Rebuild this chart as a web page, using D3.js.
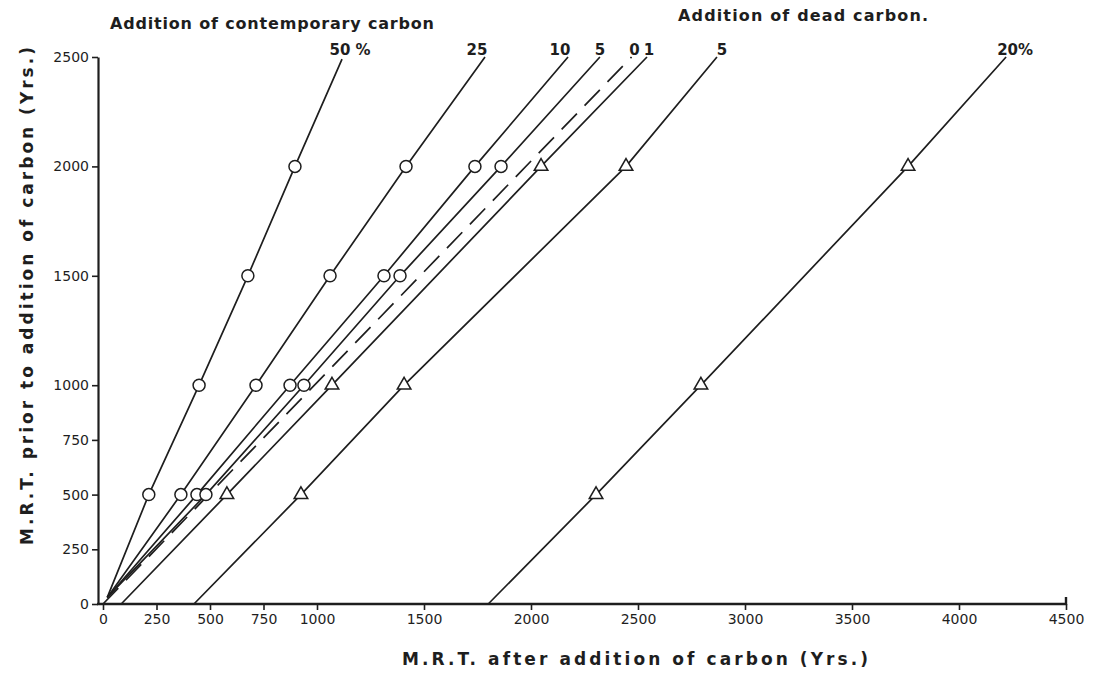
<!DOCTYPE html>
<html lang="en">
	<head>
		<meta charset="utf-8">
		<title>MRT after addition of carbon</title>
		<script type="text/javascript" src="https://cdn.jsdelivr.net/npm/d3@7"></script>
		<style type="text/css">
			body { margin: 0; background: #fff; }
			svg text { font-family: "DejaVu Sans", sans-serif; fill: #1e1e1e; }
			.axis path, .axis line { stroke: #1e1e1e; }
		</style>
	</head>

	<body>
		<script type="text/javascript">

			// chart size
			var w = 1110;
			var h = 687;

			// tick values on both axes
			var xTicks = [0, 250, 500, 750, 1000, 1500, 2000, 2500, 3000, 3500, 4000, 4500];
			var yTicks = [0, 250, 500, 750, 1000, 1500, 2000, 2500];

			// M.R.T. before the carbon was added (rows of markers)
			var priorMRT = [500, 1000, 1500, 2000];

			// one entry per line, left to right
			var seriesLabels = ["50 %", "25", "10", "5", "0", "1", "5", "20%"];
			var seriesKind = ["contemporary", "contemporary", "contemporary", "contemporary", "none", "dead", "dead", "dead"];

			// M.R.T. after addition, read at each priorMRT row (null = no marker)
			var afterMRT = [
				[214, 449, 677, 897],
				[364, 715, 1061, 1416],
				[439, 874, 1313, 1738],
				[481, 939, 1388, 1860],
				[null, null, null, null],
				[579, 1070, null, 2047],
				[925, 1407, null, 2444],
				[2304, 2794, null, 3762]
			];

			// where each line starts and stops (after, prior)
			var lineStartAfter = [20, 20, 20, 20, 0, 85, 425, 1800];
			var lineStartPrior = [30, 30, 30, 30, 0, 0, 0, 0];
			var lineEndAfter = [1117, 1785, 2173, 2322, 2470, 2542, 2869, 4220];
			var lineEndPrior = [2490, 2500, 2500, 2500, 2500, 2500, 2500, 2500];

			// small sideways shift of each end label, px
			var labelNudge = [8, -8, -8, 0, 3, 2, 5, 9];

			var xScale = d3.scaleLinear().domain([0, 4500]).range([103, 1066]);
			var yScale = d3.scaleLinear().domain([0, 2500]).range([604, 57]);

			var svg = d3.select("body")
						.append("svg")
						.attr("width", w)
						.attr("height", h);

			// build the line data
			var series = seriesLabels.map(function(label, i) {
				var pts = [[lineStartAfter[i], lineStartPrior[i]]];
				var marks = [];
				afterMRT[i].forEach(function(v, j) {
					if (v !== null) {
						pts.push([v, priorMRT[j]]);
						marks.push([v, priorMRT[j]]);
					}
				});
				pts.push([lineEndAfter[i], lineEndPrior[i]]);
				return { label: label, kind: seriesKind[i], pts: pts, marks: marks, nudge: labelNudge[i] };
			});

			var line = d3.line()
						 .x(function(d) { return xScale(d[0]); })
						 .y(function(d) { return yScale(d[1]); });

			// x axis
			var xAxis = d3.axisBottom(xScale)
						  .tickValues(xTicks)
						  .tickSize(6)
						  .tickSizeOuter(0)
						  .tickPadding(4)
						  .tickFormat(d3.format("d"));

			var gx = svg.append("g")
				.attr("class", "axis")
				.attr("transform", "translate(0," + yScale(0) + ")")
				.call(xAxis);
			gx.select(".domain").attr("d", "M" + (xScale(0) - 6) + ",0H" + xScale(4500) + "V-7").attr("stroke-width", 2.4).attr("fill", "none");
			gx.selectAll(".tick line").attr("stroke-width", 1.6);
			gx.selectAll(".tick text").style("font-size", "14px");

			// y axis
			var yAxis = d3.axisLeft(yScale)
						  .tickValues(yTicks)
						  .tickSize(6)
						  .tickSizeOuter(0)
						  .tickPadding(3)
						  .tickFormat(d3.format("d"));

			var gy = svg.append("g")
				.attr("class", "axis")
				.attr("transform", "translate(" + (xScale(0) - 5) + ",0)")
				.call(yAxis);
			gy.select(".domain").attr("stroke-width", 2.2);
			gy.selectAll(".tick line").attr("stroke-width", 1.6);
			gy.selectAll(".tick text").style("font-size", "14px");

			// lines
			svg.selectAll("path.series")
			   .data(series)
			   .enter()
			   .append("path")
			   .attr("class", "series")
			   .attr("d", function(d) { return line(d.pts); })
			   .attr("fill", "none")
			   .attr("stroke", "#1e1e1e")
			   .attr("stroke-width", 1.7)
			   .attr("stroke-dasharray", function(d) { return d.kind === "none" ? "22,11" : null; });

			// markers
			series.forEach(function(s) {
				if (s.kind === "contemporary") {
					svg.selectAll(null)
					   .data(s.marks)
					   .enter()
					   .append("circle")
					   .attr("cx", function(d) { return xScale(d[0]); })
					   .attr("cy", function(d) { return yScale(d[1]); })
					   .attr("r", 6)
					   .attr("fill", "#fff")
					   .attr("stroke", "#1e1e1e")
					   .attr("stroke-width", 1.5);
				} else if (s.kind === "dead") {
					svg.selectAll(null)
					   .data(s.marks)
					   .enter()
					   .append("path")
					   .attr("d", d3.symbol(d3.symbolTriangle).size(80))
					   .attr("transform", function(d) { return "translate(" + xScale(d[0]) + "," + yScale(d[1]) + ")"; })
					   .attr("fill", "#fff")
					   .attr("stroke", "#1e1e1e")
					   .attr("stroke-width", 1.5);
				}
			});

			// end labels
			svg.selectAll("text.endlabel")
			   .data(series)
			   .enter()
			   .append("text")
			   .attr("class", "endlabel")
			   .attr("x", function(d) { return xScale(d.pts[d.pts.length - 1][0]) + d.nudge; })
			   .attr("y", 55)
			   .attr("text-anchor", "middle")
			   .style("font-size", "15px")
			   .style("font-weight", "bold")
			   .text(function(d) { return d.label; });

			// headings
			svg.append("text")
			   .attr("x", 110).attr("y", 29)
			   .attr("textLength", 324).attr("lengthAdjust", "spacing")
			   .style("font-size", "16px").style("font-weight", "bold")
			   .text("Addition of contemporary carbon");

			svg.append("text")
			   .attr("x", 678).attr("y", 21)
			   .attr("textLength", 250).attr("lengthAdjust", "spacing")
			   .style("font-size", "16px").style("font-weight", "bold")
			   .text("Addition of dead carbon.");

			// axis titles
			svg.append("text")
			   .attr("x", 402).attr("y", 665)
			   .attr("textLength", 466).attr("lengthAdjust", "spacing")
			   .style("font-size", "17px").style("font-weight", "bold")
			   .text("M.R.T.   after   addition   of   carbon (Yrs.)");

			svg.append("text")
			   .attr("transform", "translate(33,545) rotate(-90)")
			   .attr("textLength", 498).attr("lengthAdjust", "spacing")
			   .style("font-size", "17px").style("font-weight", "bold")
			   .text("M.R.T.   prior   to   addition   of   carbon   (Yrs.)");

		</script>
	</body>
</html>
